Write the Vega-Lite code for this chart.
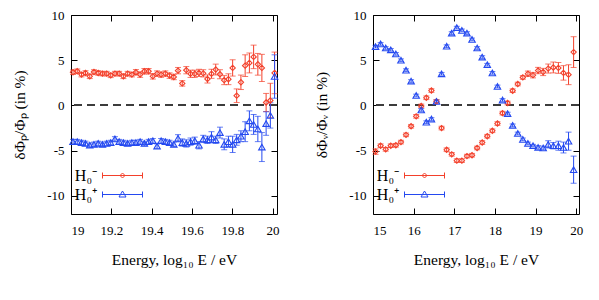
{
"$schema":"https://vega.github.io/schema/vega-lite/v6.json",
"padding":{"left":11,"top":8,"right":0,"bottom":0},
"bounds":"flush",
"spacing":96,
"config":{"font":"Liberation Serif","view":{"stroke":"#000","strokeWidth":1},"axis":{"labelFont":"Liberation Serif","titleFont":"Liberation Serif","labelFontSize":13,"labelColor":"#000","titleFontSize":15.5,"titleFontWeight":"normal","titleColor":"#000","tickColor":"#000","domain":false,"grid":false},"legend":{"labelFont":"Liberation Serif"}},
"datasets":{
"left":[
{"x":19.010,"s":"H₀⁻","y":3.67,"e":0.25},{"x":19.031,"s":"H₀⁻","y":3.78,"e":0.25},{"x":19.052,"s":"H₀⁻","y":3.41,"e":0.25},{"x":19.072,"s":"H₀⁻","y":3.59,"e":0.25},{"x":19.093,"s":"H₀⁻","y":3.22,"e":0.25},{"x":19.114,"s":"H₀⁻","y":3.7,"e":0.25},{"x":19.135,"s":"H₀⁻","y":3.59,"e":0.25},{"x":19.156,"s":"H₀⁻","y":3.52,"e":0.25},{"x":19.177,"s":"H₀⁻","y":3.52,"e":0.25},{"x":19.197,"s":"H₀⁻","y":3.33,"e":0.25},{"x":19.218,"s":"H₀⁻","y":3.52,"e":0.25},{"x":19.239,"s":"H₀⁻","y":3.52,"e":0.25},{"x":19.260,"s":"H₀⁻","y":3.22,"e":0.25},{"x":19.281,"s":"H₀⁻","y":3.52,"e":0.25},{"x":19.302,"s":"H₀⁻","y":3.41,"e":0.25},{"x":19.322,"s":"H₀⁻","y":3.67,"e":0.3},{"x":19.343,"s":"H₀⁻","y":3.41,"e":0.3},{"x":19.364,"s":"H₀⁻","y":3.78,"e":0.3},{"x":19.385,"s":"H₀⁻","y":3.78,"e":0.3},{"x":19.406,"s":"H₀⁻","y":3.22,"e":0.3},{"x":19.427,"s":"H₀⁻","y":3.52,"e":0.3},{"x":19.447,"s":"H₀⁻","y":3.41,"e":0.3},{"x":19.468,"s":"H₀⁻","y":3.52,"e":0.3},{"x":19.489,"s":"H₀⁻","y":3.3,"e":0.3},{"x":19.510,"s":"H₀⁻","y":3.15,"e":0.3},{"x":19.531,"s":"H₀⁻","y":3.85,"e":0.35},{"x":19.552,"s":"H₀⁻","y":2.44,"e":0.3},{"x":19.572,"s":"H₀⁻","y":3.9,"e":0.4},{"x":19.593,"s":"H₀⁻","y":3.5,"e":0.4},{"x":19.614,"s":"H₀⁻","y":3.5,"e":0.4},{"x":19.635,"s":"H₀⁻","y":3.6,"e":0.4},{"x":19.656,"s":"H₀⁻","y":3.55,"e":0.4},{"x":19.677,"s":"H₀⁻","y":2.93,"e":0.45},{"x":19.697,"s":"H₀⁻","y":3.5,"e":0.5},{"x":19.718,"s":"H₀⁻","y":3.97,"e":0.6},{"x":19.739,"s":"H₀⁻","y":3.45,"e":0.5},{"x":19.760,"s":"H₀⁻","y":2.8,"e":0.5},{"x":19.781,"s":"H₀⁻","y":2.9,"e":0.6},{"x":19.802,"s":"H₀⁻","y":4.15,"e":0.9},{"x":19.822,"s":"H₀⁻","y":1.08,"e":0.75},{"x":19.843,"s":"H₀⁻","y":2.56,"e":0.8},{"x":19.864,"s":"H₀⁻","y":4.4,"e":1.2},{"x":19.885,"s":"H₀⁻","y":4.7,"e":1.1},{"x":19.906,"s":"H₀⁻","y":5.37,"e":1.3},{"x":19.927,"s":"H₀⁻","y":4.55,"e":1.2},{"x":19.947,"s":"H₀⁻","y":4.15,"e":1.5},{"x":19.968,"s":"H₀⁻","y":0.33,"e":1.0},{"x":19.989,"s":"H₀⁻","y":0.55,"e":1.9},{"x":20.010,"s":"H₀⁻","y":3.6,"e":2.3},
{"x":19.010,"s":"H₀⁺","y":-4.0,"e":0.25},{"x":19.031,"s":"H₀⁺","y":-4.0,"e":0.25},{"x":19.052,"s":"H₀⁺","y":-4.1,"e":0.25},{"x":19.072,"s":"H₀⁺","y":-4.2,"e":0.25},{"x":19.093,"s":"H₀⁺","y":-4.4,"e":0.25},{"x":19.114,"s":"H₀⁺","y":-4.3,"e":0.25},{"x":19.135,"s":"H₀⁺","y":-4.2,"e":0.25},{"x":19.156,"s":"H₀⁺","y":-4.3,"e":0.25},{"x":19.177,"s":"H₀⁺","y":-4.2,"e":0.25},{"x":19.197,"s":"H₀⁺","y":-4.1,"e":0.25},{"x":19.218,"s":"H₀⁺","y":-3.7,"e":0.25},{"x":19.239,"s":"H₀⁺","y":-4.0,"e":0.25},{"x":19.260,"s":"H₀⁺","y":-4.1,"e":0.25},{"x":19.281,"s":"H₀⁺","y":-4.2,"e":0.25},{"x":19.302,"s":"H₀⁺","y":-4.1,"e":0.25},{"x":19.322,"s":"H₀⁺","y":-4.1,"e":0.25},{"x":19.343,"s":"H₀⁺","y":-4.0,"e":0.25},{"x":19.364,"s":"H₀⁺","y":-4.2,"e":0.25},{"x":19.385,"s":"H₀⁺","y":-4.0,"e":0.25},{"x":19.406,"s":"H₀⁺","y":-3.9,"e":0.25},{"x":19.427,"s":"H₀⁺","y":-4.5,"e":0.25},{"x":19.447,"s":"H₀⁺","y":-3.9,"e":0.25},{"x":19.468,"s":"H₀⁺","y":-4.0,"e":0.25},{"x":19.489,"s":"H₀⁺","y":-4.1,"e":0.25},{"x":19.510,"s":"H₀⁺","y":-4.3,"e":0.25},{"x":19.531,"s":"H₀⁺","y":-3.63,"e":0.4},{"x":19.552,"s":"H₀⁺","y":-4.1,"e":0.4},{"x":19.572,"s":"H₀⁺","y":-4.2,"e":0.4},{"x":19.593,"s":"H₀⁺","y":-4.0,"e":0.4},{"x":19.614,"s":"H₀⁺","y":-3.9,"e":0.4},{"x":19.635,"s":"H₀⁺","y":-4.4,"e":0.4},{"x":19.656,"s":"H₀⁺","y":-3.7,"e":0.4},{"x":19.677,"s":"H₀⁺","y":-3.8,"e":0.4},{"x":19.697,"s":"H₀⁺","y":-3.5,"e":0.6},{"x":19.718,"s":"H₀⁺","y":-3.8,"e":0.4},{"x":19.739,"s":"H₀⁺","y":-3.0,"e":0.6},{"x":19.760,"s":"H₀⁺","y":-4.3,"e":0.6},{"x":19.781,"s":"H₀⁺","y":-4.0,"e":0.6},{"x":19.802,"s":"H₀⁺","y":-4.3,"e":0.9},{"x":19.822,"s":"H₀⁺","y":-3.8,"e":0.6},{"x":19.843,"s":"H₀⁺","y":-3.4,"e":0.6},{"x":19.864,"s":"H₀⁺","y":-2.9,"e":1.1},{"x":19.885,"s":"H₀⁺","y":-1.7,"e":1.1},{"x":19.906,"s":"H₀⁺","y":-2.1,"e":1.1},{"x":19.927,"s":"H₀⁺","y":-2.6,"e":1.4},{"x":19.947,"s":"H₀⁺","y":-4.6,"e":1.6},{"x":19.968,"s":"H₀⁺","y":-2.0,"e":1.3},{"x":19.989,"s":"H₀⁺","y":-1.1,"e":1.4},{"x":20.010,"s":"H₀⁺","y":3.2,"e":2.4}
],
"right":[
{"x":15.0625,"s":"H₀⁻","y":-5.1,"e":0.3},{"x":15.1875,"s":"H₀⁻","y":-4.45,"e":0.2},{"x":15.3125,"s":"H₀⁻","y":-4.85,"e":0.2},{"x":15.4375,"s":"H₀⁻","y":-4.45,"e":0.2},{"x":15.5625,"s":"H₀⁻","y":-4.4,"e":0.2},{"x":15.6875,"s":"H₀⁻","y":-4.05,"e":0.2},{"x":15.8125,"s":"H₀⁻","y":-3.25,"e":0.2},{"x":15.9375,"s":"H₀⁻","y":-2.3,"e":0.2},{"x":16.0625,"s":"H₀⁻","y":-1.2,"e":0.2},{"x":16.1875,"s":"H₀⁻","y":-0.05,"e":0.2},{"x":16.3125,"s":"H₀⁻","y":0.85,"e":0.2},{"x":16.4375,"s":"H₀⁻","y":1.65,"e":0.2},{"x":16.5625,"s":"H₀⁻","y":0.45,"e":0.2},{"x":16.6875,"s":"H₀⁻","y":-2.5,"e":0.2},{"x":16.8125,"s":"H₀⁻","y":-4.9,"e":0.2},{"x":16.9375,"s":"H₀⁻","y":-5.4,"e":0.2},{"x":17.0625,"s":"H₀⁻","y":-6.1,"e":0.2},{"x":17.1875,"s":"H₀⁻","y":-6.1,"e":0.2},{"x":17.3125,"s":"H₀⁻","y":-5.6,"e":0.2},{"x":17.4375,"s":"H₀⁻","y":-5.5,"e":0.2},{"x":17.5625,"s":"H₀⁻","y":-4.7,"e":0.2},{"x":17.6875,"s":"H₀⁻","y":-4.1,"e":0.2},{"x":17.8125,"s":"H₀⁻","y":-3.4,"e":0.2},{"x":17.9375,"s":"H₀⁻","y":-2.8,"e":0.2},{"x":18.0625,"s":"H₀⁻","y":-2.0,"e":0.2},{"x":18.1875,"s":"H₀⁻","y":-0.85,"e":0.2},{"x":18.3125,"s":"H₀⁻","y":0.27,"e":0.2},{"x":18.4375,"s":"H₀⁻","y":1.63,"e":0.2},{"x":18.5625,"s":"H₀⁻","y":2.37,"e":0.2},{"x":18.6875,"s":"H₀⁻","y":3.1,"e":0.2},{"x":18.8125,"s":"H₀⁻","y":3.5,"e":0.3},{"x":18.9375,"s":"H₀⁻","y":3.35,"e":0.3},{"x":19.0625,"s":"H₀⁻","y":3.86,"e":0.35},{"x":19.1875,"s":"H₀⁻","y":3.7,"e":0.4},{"x":19.3125,"s":"H₀⁻","y":4.08,"e":0.5},{"x":19.4375,"s":"H₀⁻","y":4.2,"e":0.6},{"x":19.5625,"s":"H₀⁻","y":4.15,"e":0.6},{"x":19.6875,"s":"H₀⁻","y":3.6,"e":0.8},{"x":19.8125,"s":"H₀⁻","y":3.4,"e":1.1},{"x":19.9375,"s":"H₀⁻","y":5.9,"e":1.7},
{"x":15.0625,"s":"H₀⁺","y":6.5,"e":0.15},{"x":15.1875,"s":"H₀⁺","y":6.8,"e":0.15},{"x":15.3125,"s":"H₀⁺","y":6.35,"e":0.15},{"x":15.4375,"s":"H₀⁺","y":6.15,"e":0.15},{"x":15.5625,"s":"H₀⁺","y":5.7,"e":0.15},{"x":15.6875,"s":"H₀⁺","y":5.0,"e":0.15},{"x":15.8125,"s":"H₀⁺","y":3.9,"e":0.15},{"x":15.9375,"s":"H₀⁺","y":2.7,"e":0.15},{"x":16.0625,"s":"H₀⁺","y":1.1,"e":0.15},{"x":16.1875,"s":"H₀⁺","y":-0.5,"e":0.15},{"x":16.3125,"s":"H₀⁺","y":-1.85,"e":0.15},{"x":16.4375,"s":"H₀⁺","y":-1.5,"e":0.15},{"x":16.5625,"s":"H₀⁺","y":0.45,"e":0.15},{"x":16.6875,"s":"H₀⁺","y":3.5,"e":0.15},{"x":16.8125,"s":"H₀⁺","y":6.55,"e":0.15},{"x":16.9375,"s":"H₀⁺","y":8.0,"e":0.15},{"x":17.0625,"s":"H₀⁺","y":8.6,"e":0.15},{"x":17.1875,"s":"H₀⁺","y":8.3,"e":0.15},{"x":17.3125,"s":"H₀⁺","y":8.0,"e":0.15},{"x":17.4375,"s":"H₀⁺","y":7.3,"e":0.15},{"x":17.5625,"s":"H₀⁺","y":6.35,"e":0.15},{"x":17.6875,"s":"H₀⁺","y":5.35,"e":0.15},{"x":17.8125,"s":"H₀⁺","y":4.5,"e":0.15},{"x":17.9375,"s":"H₀⁺","y":3.6,"e":0.15},{"x":18.0625,"s":"H₀⁺","y":2.1,"e":0.15},{"x":18.1875,"s":"H₀⁺","y":0.6,"e":0.15},{"x":18.3125,"s":"H₀⁺","y":-0.9,"e":0.15},{"x":18.4375,"s":"H₀⁺","y":-2.2,"e":0.15},{"x":18.5625,"s":"H₀⁺","y":-3.1,"e":0.15},{"x":18.6875,"s":"H₀⁺","y":-3.75,"e":0.15},{"x":18.8125,"s":"H₀⁺","y":-4.2,"e":0.15},{"x":18.9375,"s":"H₀⁺","y":-4.45,"e":0.15},{"x":19.0625,"s":"H₀⁺","y":-4.65,"e":0.2},{"x":19.1875,"s":"H₀⁺","y":-4.7,"e":0.2},{"x":19.3125,"s":"H₀⁺","y":-4.3,"e":0.4},{"x":19.4375,"s":"H₀⁺","y":-4.45,"e":0.35},{"x":19.5625,"s":"H₀⁺","y":-4.45,"e":0.5},{"x":19.6875,"s":"H₀⁺","y":-4.65,"e":0.6},{"x":19.8125,"s":"H₀⁺","y":-3.95,"e":1.0},{"x":19.9375,"s":"H₀⁺","y":-7.1,"e":1.5}
]
},
"hconcat":[
{
"width":206,"height":199,
"data":{"name":"left"},
"layer":[
{"mark":{"type":"rule","strokeDash":[8,5],"color":"#3c3c3c","strokeWidth":1.3},"encoding":{"y":{"datum":0,"type":"quantitative","axis":null}}},
{"mark":{"type":"errorbar","ticks":{"size":6},"thickness":1},
 "encoding":{
  "x":{"field":"x","type":"quantitative","scale":{"domain":[19,20.022],"nice":false,"zero":false},"axis":{"values":[19,19.2,19.4,19.6,19.8,20],"labelExpr":"''+datum.value","labelFont":"Liberation Serif","titleFont":"Liberation Serif","tickSize":-6,"labelPadding":16,"title":"Energy, log₁₀ E / eV","titleY":45,"titleBaseline":"middle"}},
  "y":{"field":"y","type":"quantitative","scale":{"domain":[-12,10],"nice":false,"zero":false},"axis":{"values":[-10,-5,0,5,10],"labelExpr":"''+datum.value","labelFont":"Liberation Serif","titleFont":"Liberation Serif","tickSize":-6,"labelPadding":13,"title":"δΦₚ/Φₚ (in %)","titleX":-52,"titleBaseline":"middle"}},
  "yError":{"field":"e"},
  "color":{"field":"s","type":"nominal","scale":{"domain":["H₀⁻","H₀⁺"],"range":["#f3402b","#2449f0"]},"legend":null}}},
{"mark":{"type":"point","filled":false,"strokeWidth":1.1,"opacity":1},
 "encoding":{
  "x":{"field":"x","type":"quantitative","axis":null},
  "y":{"field":"y","type":"quantitative","axis":null},
  "color":{"field":"s","type":"nominal","scale":{"domain":["H₀⁻","H₀⁺"],"range":["#f3402b","#2449f0"]},"legend":null},
  "shape":{"field":"s","type":"nominal","scale":{"domain":["H₀⁻","H₀⁺"],"range":["diamond","triangle-up"]},"legend":null},
  "size":{"field":"s","type":"nominal","scale":{"domain":["H₀⁻","H₀⁺"],"range":[28,42]},"legend":null}}},
{"transform":[{"filter":"false"}],
 "mark":{"type":"point","filled":false,"opacity":1},
 "encoding":{
  "x":{"field":"x","type":"quantitative","scale":{"domain":[19,20.022],"nice":false,"zero":false},"axis":{"orient":"top","values":[19,19.2,19.4,19.6,19.8,20],"labels":false,"tickSize":-6,"title":null}},
  "y":{"field":"y","type":"quantitative","scale":{"domain":[-12,10],"nice":false,"zero":false},"axis":{"orient":"right","values":[-10,-5,0,5,10],"labels":false,"tickSize":-6,"title":null}},
  "color":{"field":"s","type":"nominal","scale":{"domain":["H₀⁻","H₀⁺"],"range":["#f3402b","#2449f0"]},"legend":{"orient":"none","legendX":41,"legendY":150,"title":null,"symbolSize":400,"symbolStrokeWidth":1,"symbolOpacity":1,"symbolFillColor":"transparent","labelFont":"Liberation Serif","labelFontSize":16,"labelColor":"#000","labelAlign":"right","labelOffset":-36,"rowPadding":0,"padding":0}},
  "shape":{"field":"s","type":"nominal","scale":{"domain":["H₀⁻","H₀⁺"],"range":["M-2,0L2,0M-2,-0.3L-2,0.3M2,-0.3L2,0.3M0,-0.25L0.25,0L0,0.25L-0.25,0Z","M-2,0L2,0M-2,-0.3L-2,0.3M2,-0.3L2,0.3M0,-0.35L0.35,0.25L-0.35,0.25Z"]},"legend":{"orient":"none","legendX":41,"legendY":150,"title":null,"symbolSize":400,"symbolStrokeWidth":1,"symbolOpacity":1,"symbolFillColor":"transparent","labelFont":"Liberation Serif","labelFontSize":16,"labelColor":"#000","labelAlign":"right","labelOffset":-36,"rowPadding":0,"padding":0}}}}
],
"resolve":{"scale":{"shape":"independent","color":"independent"},"axis":{"x":"independent","y":"independent"}}
},
{
"width":206,"height":199,
"data":{"name":"right"},
"layer":[
{"mark":{"type":"rule","strokeDash":[8,5],"color":"#3c3c3c","strokeWidth":1.3},"encoding":{"y":{"datum":0,"type":"quantitative","axis":null}}},
{"mark":{"type":"errorbar","ticks":{"size":6},"thickness":1},
 "encoding":{
  "x":{"field":"x","type":"quantitative","scale":{"domain":[15,20.07],"nice":false,"zero":false},"axis":{"values":[15,16,17,18,19,20],"labelExpr":"''+datum.value","labelFont":"Liberation Serif","titleFont":"Liberation Serif","tickSize":-6,"labelPadding":16,"title":"Energy, log₁₀ E / eV","titleY":45,"titleBaseline":"middle"}},
  "y":{"field":"y","type":"quantitative","scale":{"domain":[-12,10],"nice":false,"zero":false},"axis":{"values":[-10,-5,0,5,10],"labelExpr":"''+datum.value","labelFont":"Liberation Serif","titleFont":"Liberation Serif","tickSize":-6,"labelPadding":13,"title":"δΦᵥ/Φᵥ (in %)","titleX":-52,"titleBaseline":"middle"}},
  "yError":{"field":"e"},
  "color":{"field":"s","type":"nominal","scale":{"domain":["H₀⁻","H₀⁺"],"range":["#f3402b","#2449f0"]},"legend":null}}},
{"mark":{"type":"point","filled":false,"strokeWidth":1.1,"opacity":1},
 "encoding":{
  "x":{"field":"x","type":"quantitative","axis":null},
  "y":{"field":"y","type":"quantitative","axis":null},
  "color":{"field":"s","type":"nominal","scale":{"domain":["H₀⁻","H₀⁺"],"range":["#f3402b","#2449f0"]},"legend":null},
  "shape":{"field":"s","type":"nominal","scale":{"domain":["H₀⁻","H₀⁺"],"range":["diamond","triangle-up"]},"legend":null},
  "size":{"field":"s","type":"nominal","scale":{"domain":["H₀⁻","H₀⁺"],"range":[28,42]},"legend":null}}},
{"transform":[{"filter":"false"}],
 "mark":{"type":"point","filled":false,"opacity":1},
 "encoding":{
  "x":{"field":"x","type":"quantitative","scale":{"domain":[15,20.07],"nice":false,"zero":false},"axis":{"orient":"top","values":[15,16,17,18,19,20],"labels":false,"tickSize":-6,"title":null}},
  "y":{"field":"y","type":"quantitative","scale":{"domain":[-12,10],"nice":false,"zero":false},"axis":{"orient":"right","values":[-10,-5,0,5,10],"labels":false,"tickSize":-6,"title":null}},
  "color":{"field":"s","type":"nominal","scale":{"domain":["H₀⁻","H₀⁺"],"range":["#f3402b","#2449f0"]},"legend":{"orient":"none","legendX":41,"legendY":150,"title":null,"symbolSize":400,"symbolStrokeWidth":1,"symbolOpacity":1,"symbolFillColor":"transparent","labelFont":"Liberation Serif","labelFontSize":16,"labelColor":"#000","labelAlign":"right","labelOffset":-36,"rowPadding":0,"padding":0}},
  "shape":{"field":"s","type":"nominal","scale":{"domain":["H₀⁻","H₀⁺"],"range":["M-2,0L2,0M-2,-0.3L-2,0.3M2,-0.3L2,0.3M0,-0.25L0.25,0L0,0.25L-0.25,0Z","M-2,0L2,0M-2,-0.3L-2,0.3M2,-0.3L2,0.3M0,-0.35L0.35,0.25L-0.35,0.25Z"]},"legend":{"orient":"none","legendX":41,"legendY":150,"title":null,"symbolSize":400,"symbolStrokeWidth":1,"symbolOpacity":1,"symbolFillColor":"transparent","labelFont":"Liberation Serif","labelFontSize":16,"labelColor":"#000","labelAlign":"right","labelOffset":-36,"rowPadding":0,"padding":0}}}}
],
"resolve":{"scale":{"shape":"independent","color":"independent"},"axis":{"x":"independent","y":"independent"}}
}
]
}
